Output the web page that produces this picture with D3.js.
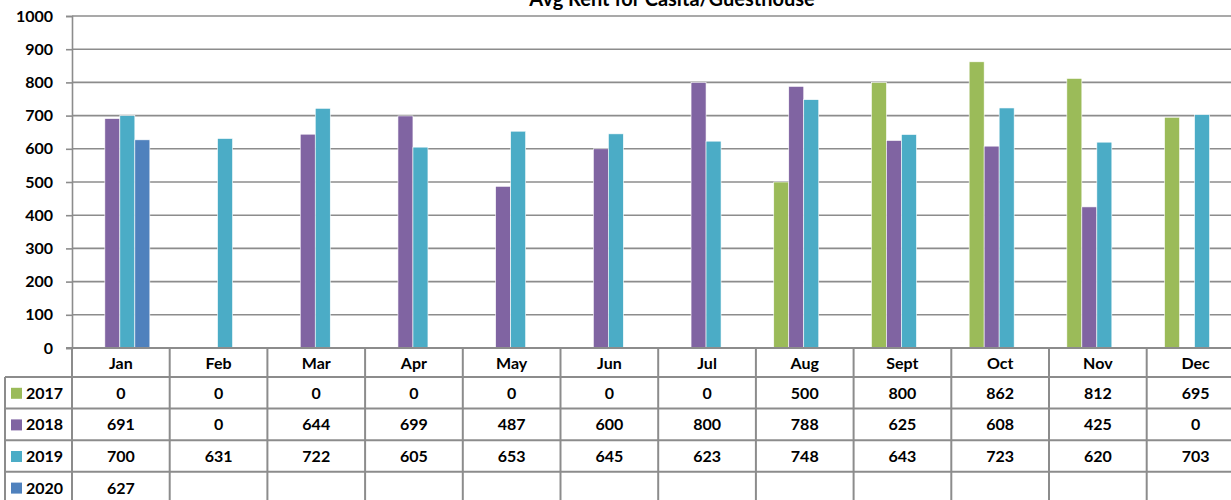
<!DOCTYPE html>
<html>
<head>
<meta charset="utf-8">
<script src="https://cdn.jsdelivr.net/npm/d3@7"></script>
<style>
  body { margin: 0; background: #fff; }
  svg { display: block; font-family: Lato, "Open Sans", sans-serif; }
</style>
</head>
<body>
<svg id="chart" width="1231" height="500"></svg>
<script>
// chart data
var months = ["Jan", "Feb", "Mar", "Apr", "May", "Jun", "Jul", "Aug", "Sept", "Oct", "Nov", "Dec"];
var years = ["2017", "2018", "2019", "2020"];
var rent2017 = [0, 0, 0, 0, 0, 0, 0, 500, 800, 862, 812, 695];
var rent2018 = [691, 0, 644, 699, 487, 600, 800, 788, 625, 608, 425, 0];
var rent2019 = [700, 631, 722, 605, 653, 645, 623, 748, 643, 723, 620, 703];
var rent2020 = [627, null, null, null, null, null, null, null, null, null, null, null];
var yTicks = [0, 100, 200, 300, 400, 500, 600, 700, 800, 900, 1000];

var colors = {"2017": "#9bbb59", "2018": "#8064a2", "2019": "#4bacc6", "2020": "#4f81bd"};
var series = [rent2017, rent2018, rent2019, rent2020];

var svg = d3.select("#chart");
var plotLeft = 72, colW = 97.7, plotTop = 16, plotBottom = 348;
var plotRight = plotLeft + colW * months.length;
var rowH = 31.6, tableTop = 377, legendLeft = 5;
var gridColor = "#8c8c8c";

var x = d3.scaleBand().domain(months).range([plotLeft, plotRight]);
var xInner = d3.scaleBand().domain(years).range([-31, 29]);
var y = d3.scaleLinear().domain([0, 1000]).range([plotBottom, plotTop]);

// gridlines
svg.append("g").selectAll("line")
    .data(yTicks.filter(d => d > 0))
    .enter().append("line")
    .attr("x1", plotLeft).attr("x2", plotRight)
    .attr("y1", d => y(d)).attr("y2", d => y(d))
    .attr("stroke", gridColor).attr("stroke-width", 1.6);

// title
svg.append("text")
    .attr("x", 672).attr("y", 6)
    .attr("text-anchor", "middle")
    .style("font-size", "20px").style("font-weight", "bold")
    .text("Avg Rent for Casita/Guesthouse");

// bars
years.forEach(function(yr, i) {
    var vals = months.map((m, j) => ({month: m, value: series[i][j]}))
        .filter(d => d.value !== null && d.value > 0);
    svg.append("g").selectAll("rect")
        .data(vals)
        .enter().append("rect")
        .attr("x", d => x(d.month) + x.bandwidth() / 2 + xInner(yr))
        .attr("y", d => y(d.value))
        .attr("width", xInner.bandwidth())
        .attr("height", d => y(0) - y(d.value))
        .attr("fill", colors[yr])
        .attr("stroke", "#fff").attr("stroke-width", 0.6);
});

// y axis
var yAxis = d3.axisLeft(y).tickValues(yTicks).tickFormat(d3.format("d")).tickSize(6).tickPadding(13);
var ga = svg.append("g").attr("transform", "translate(" + plotLeft + ",0)").call(yAxis);
ga.select(".domain").attr("stroke", gridColor).attr("stroke-width", 1.6);
ga.selectAll(".tick line").attr("stroke", gridColor).attr("stroke-width", 1.6);
ga.selectAll("text")
    .style("font-family", "Lato, sans-serif")
    .style("font-size", "16px").style("font-weight", "bold").attr("fill", "#000");

// x axis line (top of data table)
svg.append("line")
    .attr("x1", plotLeft - 6).attr("x2", plotRight)
    .attr("y1", plotBottom).attr("y2", plotBottom)
    .attr("stroke", gridColor).attr("stroke-width", 2);

// data table lines
var tableBottom = tableTop + rowH * years.length;
svg.append("g").selectAll("line")
    .data(d3.range(months.length + 1))
    .enter().append("line")
    .attr("x1", i => plotLeft + i * colW).attr("x2", i => plotLeft + i * colW)
    .attr("y1", plotBottom).attr("y2", tableBottom)
    .attr("stroke", gridColor).attr("stroke-width", 2);
svg.append("g").selectAll("line")
    .data(d3.range(years.length))
    .enter().append("line")
    .attr("x1", legendLeft).attr("x2", plotRight)
    .attr("y1", i => tableTop + i * rowH).attr("y2", i => tableTop + i * rowH)
    .attr("stroke", gridColor).attr("stroke-width", 2);
svg.append("line")
    .attr("x1", legendLeft).attr("x2", legendLeft)
    .attr("y1", tableTop).attr("y2", tableBottom)
    .attr("stroke", gridColor).attr("stroke-width", 2);

// month labels
svg.append("g").selectAll("text")
    .data(months)
    .enter().append("text")
    .attr("x", d => x(d) + x.bandwidth() / 2)
    .attr("y", (plotBottom + tableTop) / 2 + 6)
    .attr("text-anchor", "middle")
    .style("font-size", "16px").style("font-weight", "bold")
    .text(d => d);

// legend keys and values
years.forEach(function(yr, i) {
    var cy = tableTop + i * rowH + rowH / 2;
    svg.append("rect")
        .attr("x", 11).attr("y", cy - 5)
        .attr("width", 11).attr("height", 11)
        .attr("fill", colors[yr]);
    svg.append("text")
        .attr("x", 26).attr("y", cy + 6)
        .style("font-size", "16px").style("font-weight", "bold")
        .text(yr);
    svg.append("g").selectAll("text")
        .data(months.map((m, j) => ({month: m, value: series[i][j]})).filter(d => d.value !== null))
        .enter().append("text")
        .attr("x", d => x(d.month) + x.bandwidth() / 2)
        .attr("y", cy + 6)
        .attr("text-anchor", "middle")
        .style("font-size", "16px").style("font-weight", "bold")
        .text(d => d.value);
});
</script>
</body>
</html>
